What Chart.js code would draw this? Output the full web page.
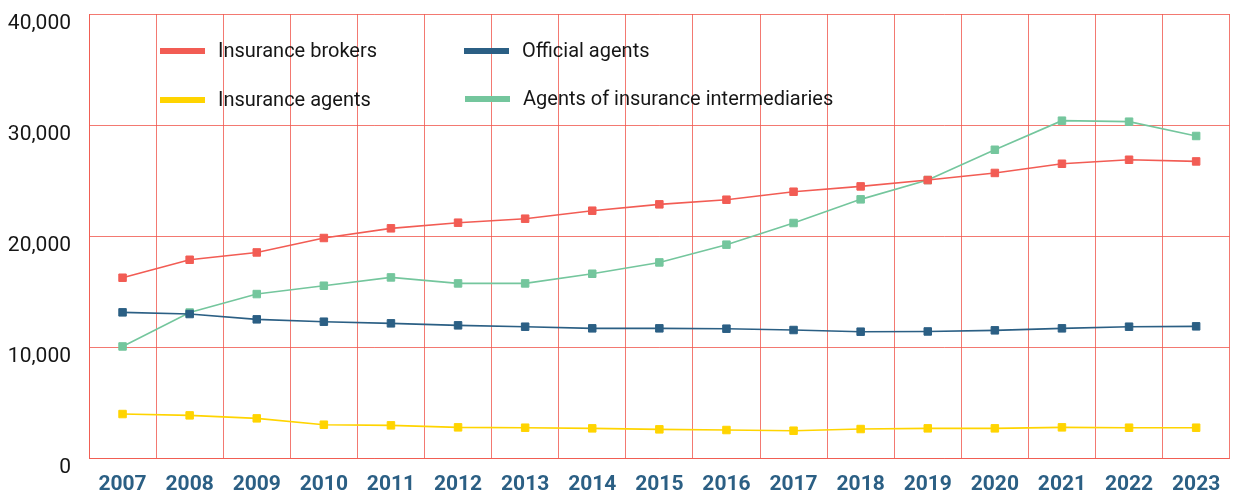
<!DOCTYPE html>
<html>
<head>
<meta charset="utf-8">
<script src="https://cdn.jsdelivr.net/npm/chart.js@4"></script>
<style>
  html, body { margin: 0; padding: 0; background: #fff; overflow: hidden; }
  #wrap { position: relative; width: 1236px; height: 493px; }
</style>
</head>
<body>
<div id="wrap"><canvas id="chart"></canvas></div>
<script>
const years = ['2007', '2008', '2009', '2010', '2011', '2012', '2013', '2014', '2015',
  '2016', '2017', '2018', '2019', '2020', '2021', '2022', '2023'];

const insuranceBrokers = [16240, 17860, 18520, 19820, 20690, 21200, 21560, 22280, 22850,
  23270, 23990, 24470, 25040, 25680, 26510, 26870, 26720];
const insuranceAgents = [3960, 3840, 3570, 3000, 2940, 2760, 2730, 2670, 2580,
  2520, 2460, 2610, 2670, 2670, 2760, 2730, 2730];
const officialAgents = [13120, 12970, 12490, 12280, 12130, 11950, 11830, 11680, 11680,
  11650, 11530, 11380, 11400, 11500, 11680, 11830, 11860];
const intermediaryAgents = [10050, 13100, 14770, 15520, 16270, 15730, 15730, 16600, 17620,
  19220, 21170, 23300, 25040, 27770, 30390, 30300, 29010];

const yTicks = [0, 10000, 20000, 30000, 40000];

const gridColor = 'rgba(240, 88, 78, 0.8)';

function series(label, data, color) {
  return {
    label: label,
    data: data,
    borderColor: color,
    backgroundColor: color,
    borderWidth: 1.6,
    tension: 0,
    pointStyle: 'rect',
    pointRadius: 5.3,
    pointBorderWidth: 1,
    pointBackgroundColor: color,
    pointBorderColor: color
  };
}

// legend drawn inside the plot, two columns
const insideLegend = {
  id: 'insideLegend',
  afterDraw(chart) {
    const ctx = chart.ctx;
    const spots = [
      { x: 160, y: 51 },   // brokers
      { x: 160, y: 100 },  // agents
      { x: 464, y: 51 },   // official
      { x: 465, y: 99 }    // intermediaries
    ];
    ctx.save();
    ctx.font = '20px Roboto';
    ctx.textBaseline = 'middle';
    chart.data.datasets.forEach((ds, i) => {
      const s = spots[i];
      ctx.fillStyle = ds.borderColor;
      ctx.fillRect(s.x, s.y - 3, 45, 6);
      ctx.fillStyle = '#161616';
      ctx.fillText(ds.label, s.x + 58, s.y + 1);
    });
    ctx.restore();
  }
};

new Chart(document.getElementById('chart'), {
  type: 'line',
  data: {
    labels: years,
    datasets: [
      series('Insurance brokers', insuranceBrokers, '#f25c54'),
      series('Insurance agents', insuranceAgents, '#ffd400'),
      series('Official agents', officialAgents, '#2b5f84'),
      series('Agents of insurance intermediaries', intermediaryAgents, '#74c69d')
    ]
  },
  options: {
    responsive: true,
    maintainAspectRatio: false,
    animation: false,
    layout: { padding: { top: 14, left: 0, right: 0, bottom: 0 } },
    plugins: {
      legend: { display: false },
      tooltip: { enabled: false }
    },
    scales: {
      x: {
        offset: true,
        grid: { offset: true, color: gridColor, lineWidth: 1, drawTicks: false },
        border: { color: gridColor },
        ticks: {
          color: '#2b5f84',
          font: { family: 'Roboto', size: 21, weight: 'bold' },
          padding: 14,
          maxRotation: 0,
          autoSkip: false
        },
        afterFit(scale) {
          scale.height = 35;
          scale.paddingLeft = 0;
          scale.paddingRight = 0;
        }
      },
      y: {
        min: 0,
        max: 40000,
        afterBuildTicks(scale) { scale.ticks = yTicks.map(v => ({ value: v })); },
        grid: { color: gridColor, lineWidth: 1, drawTicks: false },
        border: { color: gridColor },
        ticks: {
          color: '#161616',
          font: { family: 'Roboto', size: 21 },
          padding: 18,
          labelOffset: 10,
          callback: v => v.toLocaleString('en-US')
        },
        afterFit(scale) {
          scale.width = 89;
          scale.paddingTop = 0;
          scale.paddingBottom = 0;
        }
      }
    }
  },
  plugins: [insideLegend]
});
</script>
</body>
</html>
